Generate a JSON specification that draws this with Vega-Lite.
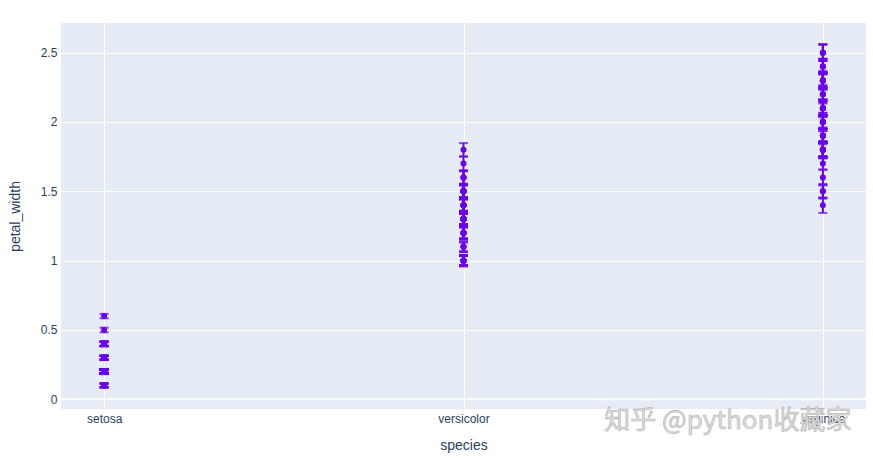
{
  "$schema": "https://vega.github.io/schema/vega-lite/v6.json",
  "width": 805,
  "height": 386,
  "autosize": {"type": "none"},
  "padding": {"left": 61, "top": 23, "right": 7, "bottom": 49},
  "background": "white",
  "config": {
    "font": "Liberation Sans",
    "view": {"fill": "#E5ECF6", "stroke": null},
    "axis": {"labelColor": "#2a3f5f", "titleColor": "#2a3f5f", "labelFontSize": 12, "titleFontSize": 14, "titleFontWeight": "normal", "domain": false, "ticks": false, "gridColor": "white", "gridWidth": 1, "gridOpacity": 1}
  },
  "data": {"values": [
    {"species":"setosa","petal_width":0.2,"e":0.014},{"species":"setosa","petal_width":0.2,"e":0.014},{"species":"setosa","petal_width":0.2,"e":0.013},{"species":"setosa","petal_width":0.2,"e":0.015},{"species":"setosa","petal_width":0.2,"e":0.014},
    {"species":"setosa","petal_width":0.4,"e":0.017},{"species":"setosa","petal_width":0.3,"e":0.014},{"species":"setosa","petal_width":0.2,"e":0.015},{"species":"setosa","petal_width":0.2,"e":0.014},{"species":"setosa","petal_width":0.1,"e":0.015},
    {"species":"setosa","petal_width":0.2,"e":0.015},{"species":"setosa","petal_width":0.2,"e":0.016},{"species":"setosa","petal_width":0.1,"e":0.014},{"species":"setosa","petal_width":0.1,"e":0.011},{"species":"setosa","petal_width":0.2,"e":0.012},
    {"species":"setosa","petal_width":0.4,"e":0.015},{"species":"setosa","petal_width":0.4,"e":0.013},{"species":"setosa","petal_width":0.3,"e":0.014},{"species":"setosa","petal_width":0.3,"e":0.017},{"species":"setosa","petal_width":0.3,"e":0.015},
    {"species":"setosa","petal_width":0.2,"e":0.017},{"species":"setosa","petal_width":0.4,"e":0.015},{"species":"setosa","petal_width":0.2,"e":0.010},{"species":"setosa","petal_width":0.5,"e":0.017},{"species":"setosa","petal_width":0.2,"e":0.019},
    {"species":"setosa","petal_width":0.2,"e":0.016},{"species":"setosa","petal_width":0.4,"e":0.016},{"species":"setosa","petal_width":0.2,"e":0.015},{"species":"setosa","petal_width":0.2,"e":0.014},{"species":"setosa","petal_width":0.2,"e":0.016},
    {"species":"setosa","petal_width":0.2,"e":0.016},{"species":"setosa","petal_width":0.4,"e":0.015},{"species":"setosa","petal_width":0.1,"e":0.015},{"species":"setosa","petal_width":0.2,"e":0.014},{"species":"setosa","petal_width":0.2,"e":0.015},
    {"species":"setosa","petal_width":0.2,"e":0.012},{"species":"setosa","petal_width":0.2,"e":0.013},{"species":"setosa","petal_width":0.1,"e":0.014},{"species":"setosa","petal_width":0.2,"e":0.013},{"species":"setosa","petal_width":0.2,"e":0.015},
    {"species":"setosa","petal_width":0.3,"e":0.013},{"species":"setosa","petal_width":0.3,"e":0.013},{"species":"setosa","petal_width":0.2,"e":0.013},{"species":"setosa","petal_width":0.6,"e":0.016},{"species":"setosa","petal_width":0.4,"e":0.019},
    {"species":"setosa","petal_width":0.3,"e":0.014},{"species":"setosa","petal_width":0.2,"e":0.016},{"species":"setosa","petal_width":0.2,"e":0.014},{"species":"setosa","petal_width":0.2,"e":0.015},{"species":"setosa","petal_width":0.2,"e":0.014},
    {"species":"versicolor","petal_width":1.4,"e":0.047},{"species":"versicolor","petal_width":1.5,"e":0.045},{"species":"versicolor","petal_width":1.5,"e":0.049},{"species":"versicolor","petal_width":1.3,"e":0.040},{"species":"versicolor","petal_width":1.5,"e":0.046},
    {"species":"versicolor","petal_width":1.3,"e":0.045},{"species":"versicolor","petal_width":1.6,"e":0.047},{"species":"versicolor","petal_width":1.0,"e":0.033},{"species":"versicolor","petal_width":1.3,"e":0.046},{"species":"versicolor","petal_width":1.4,"e":0.039},
    {"species":"versicolor","petal_width":1.0,"e":0.035},{"species":"versicolor","petal_width":1.5,"e":0.042},{"species":"versicolor","petal_width":1.0,"e":0.040},{"species":"versicolor","petal_width":1.4,"e":0.047},{"species":"versicolor","petal_width":1.3,"e":0.036},
    {"species":"versicolor","petal_width":1.4,"e":0.044},{"species":"versicolor","petal_width":1.5,"e":0.045},{"species":"versicolor","petal_width":1.0,"e":0.041},{"species":"versicolor","petal_width":1.5,"e":0.045},{"species":"versicolor","petal_width":1.1,"e":0.039},
    {"species":"versicolor","petal_width":1.8,"e":0.048},{"species":"versicolor","petal_width":1.3,"e":0.040},{"species":"versicolor","petal_width":1.5,"e":0.049},{"species":"versicolor","petal_width":1.2,"e":0.047},{"species":"versicolor","petal_width":1.3,"e":0.043},
    {"species":"versicolor","petal_width":1.4,"e":0.044},{"species":"versicolor","petal_width":1.4,"e":0.048},{"species":"versicolor","petal_width":1.7,"e":0.050},{"species":"versicolor","petal_width":1.5,"e":0.045},{"species":"versicolor","petal_width":1.0,"e":0.035},
    {"species":"versicolor","petal_width":1.1,"e":0.038},{"species":"versicolor","petal_width":1.0,"e":0.037},{"species":"versicolor","petal_width":1.2,"e":0.039},{"species":"versicolor","petal_width":1.6,"e":0.051},{"species":"versicolor","petal_width":1.5,"e":0.045},
    {"species":"versicolor","petal_width":1.6,"e":0.045},{"species":"versicolor","petal_width":1.5,"e":0.047},{"species":"versicolor","petal_width":1.3,"e":0.044},{"species":"versicolor","petal_width":1.3,"e":0.041},{"species":"versicolor","petal_width":1.3,"e":0.040},
    {"species":"versicolor","petal_width":1.2,"e":0.044},{"species":"versicolor","petal_width":1.4,"e":0.046},{"species":"versicolor","petal_width":1.2,"e":0.040},{"species":"versicolor","petal_width":1.0,"e":0.033},{"species":"versicolor","petal_width":1.3,"e":0.042},
    {"species":"versicolor","petal_width":1.2,"e":0.042},{"species":"versicolor","petal_width":1.3,"e":0.042},{"species":"versicolor","petal_width":1.3,"e":0.043},{"species":"versicolor","petal_width":1.1,"e":0.030},{"species":"versicolor","petal_width":1.3,"e":0.041},
    {"species":"virginica","petal_width":2.5,"e":0.060},{"species":"virginica","petal_width":1.9,"e":0.051},{"species":"virginica","petal_width":2.1,"e":0.059},{"species":"virginica","petal_width":1.8,"e":0.056},{"species":"virginica","petal_width":2.2,"e":0.058},
    {"species":"virginica","petal_width":2.1,"e":0.066},{"species":"virginica","petal_width":1.7,"e":0.045},{"species":"virginica","petal_width":1.8,"e":0.063},{"species":"virginica","petal_width":1.8,"e":0.058},{"species":"virginica","petal_width":2.5,"e":0.061},
    {"species":"virginica","petal_width":2.0,"e":0.051},{"species":"virginica","petal_width":1.9,"e":0.053},{"species":"virginica","petal_width":2.1,"e":0.055},{"species":"virginica","petal_width":2.0,"e":0.050},{"species":"virginica","petal_width":2.4,"e":0.051},
    {"species":"virginica","petal_width":2.3,"e":0.053},{"species":"virginica","petal_width":1.8,"e":0.055},{"species":"virginica","petal_width":2.2,"e":0.067},{"species":"virginica","petal_width":2.3,"e":0.069},{"species":"virginica","petal_width":1.5,"e":0.050},
    {"species":"virginica","petal_width":2.3,"e":0.057},{"species":"virginica","petal_width":2.0,"e":0.049},{"species":"virginica","petal_width":2.0,"e":0.067},{"species":"virginica","petal_width":1.8,"e":0.049},{"species":"virginica","petal_width":2.1,"e":0.057},
    {"species":"virginica","petal_width":1.8,"e":0.060},{"species":"virginica","petal_width":1.8,"e":0.048},{"species":"virginica","petal_width":1.8,"e":0.049},{"species":"virginica","petal_width":2.1,"e":0.056},{"species":"virginica","petal_width":1.6,"e":0.058},
    {"species":"virginica","petal_width":1.9,"e":0.061},{"species":"virginica","petal_width":2.0,"e":0.064},{"species":"virginica","petal_width":2.2,"e":0.056},{"species":"virginica","petal_width":1.5,"e":0.051},{"species":"virginica","petal_width":1.4,"e":0.056},
    {"species":"virginica","petal_width":2.3,"e":0.061},{"species":"virginica","petal_width":2.4,"e":0.056},{"species":"virginica","petal_width":1.8,"e":0.055},{"species":"virginica","petal_width":1.8,"e":0.048},{"species":"virginica","petal_width":2.1,"e":0.054},
    {"species":"virginica","petal_width":2.4,"e":0.056},{"species":"virginica","petal_width":2.3,"e":0.051},{"species":"virginica","petal_width":1.9,"e":0.051},{"species":"virginica","petal_width":2.3,"e":0.059},{"species":"virginica","petal_width":2.5,"e":0.057},
    {"species":"virginica","petal_width":2.3,"e":0.052},{"species":"virginica","petal_width":1.9,"e":0.050},{"species":"virginica","petal_width":2.0,"e":0.052},{"species":"virginica","petal_width":2.3,"e":0.054},{"species":"virginica","petal_width":1.8,"e":0.051}
  ]},
  "encoding": {
    "x": {"field": "species", "type": "nominal", "sort": null,
      "scale": {"type": "point", "padding": 0.12},
      "axis": {"title": "species", "labelAngle": 0, "grid": true, "labelPadding": 4, "titlePadding": 14}},
    "y": {"field": "petal_width", "type": "quantitative",
      "scale": {"domain": [-0.07, 2.714], "nice": false, "zero": false},
      "axis": {"title": "petal_width", "values": [0, 0.5, 1, 1.5, 2, 2.5], "format": "~g", "labelPadding": 4, "titlePadding": 18}}
  },
  "layer": [
    {"transform": [{"filter": "datum.petal_width == 0.6"}], "mark": {"type": "rule", "color": "white", "strokeWidth": 2}, "encoding": {"x": null, "y": {"datum": 0, "type": "quantitative"}}},
    {"mark": {"type": "errorbar", "color": "#6a00f0", "thickness": 2, "ticks": {"size": 9, "thickness": 2, "color": "#6a00f0"}},
      "encoding": {"yError": {"field": "e"}}},
    {"mark": {"type": "circle", "color": "#6a00f0", "opacity": 1, "size": 36}},
    {"transform": [{"filter": "datum.petal_width == 0.6"}], "mark": {"type": "text", "text": "知乎 @python收藏家", "font": "Noto Sans CJK SC", "fontSize": 26, "fill": "#dcdcdc", "stroke": "#b4b4b4", "strokeWidth": 0.6, "align": "center", "baseline": "middle", "dx": -95},
      "encoding": {"x": {"datum": "virginica"}, "y": {"datum": -0.157, "type": "quantitative"}}}
  ]
}
